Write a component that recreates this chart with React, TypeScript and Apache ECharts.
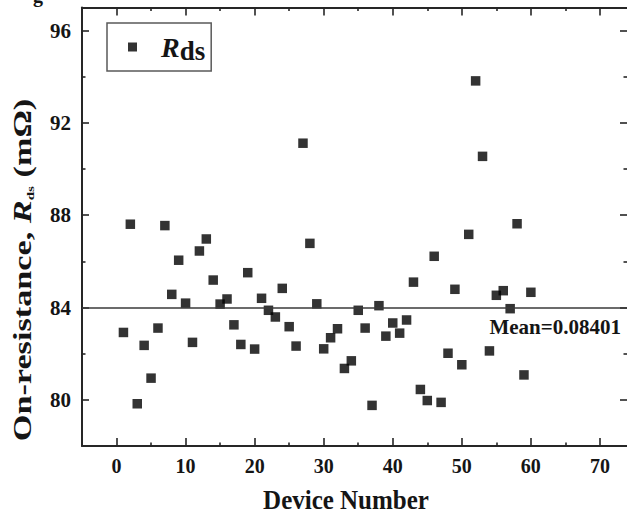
import React, { useEffect, useRef } from "react";
import * as echarts from "echarts";

const DEVICES = [
  1, 2, 3, 4, 5, 6, 7, 8, 9, 10, 11, 12, 13, 14, 15, 16, 17, 18, 19, 20,
  21, 22, 23, 24, 25, 26, 27, 28, 29, 30, 31, 32, 33, 34, 35, 36, 37, 38, 39, 40,
  41, 42, 43, 44, 45, 46, 47, 48, 49, 50, 51, 52, 53, 54, 55, 56, 57, 58, 59, 60,
];
const RDS_MOHM = [
  82.92, 87.61, 79.83, 82.36, 80.94, 83.11, 87.55, 84.57, 86.05, 84.19,
  82.49, 86.45, 86.97, 85.19, 84.15, 84.37, 83.25, 82.4, 85.51, 82.2,
  84.4, 83.88, 83.59, 84.83, 83.17, 82.33, 91.12, 86.78, 84.16, 82.21,
  82.69, 83.08, 81.36, 81.69, 83.88, 83.11, 79.76, 84.08, 82.76, 83.33,
  82.89, 83.46, 85.1, 80.45, 79.97, 86.22, 79.89, 82.02, 84.79, 81.52,
  87.17, 93.82, 90.55, 82.12, 84.53, 84.73, 83.95, 87.63, 81.08, 84.66,
];
const MEAN_MOHM = 84.01;
const MEAN_LABEL = "Mean=0.08401";
const X_MAJOR = [0, 10, 20, 30, 40, 50, 60, 70];
const X_MINOR = [5, 15, 25, 35, 45, 55, 65];
const Y_MAJOR = [80, 84, 88, 92, 96];
const Y_MINOR = [82, 86, 90, 94];

const FONT = "'Liberation Serif', 'Times New Roman', serif";
const INK = "#151515";
const AXIS = "#262626";

export default function App() {
  const ref = useRef<HTMLDivElement>(null);

  useEffect(() => {
    document.body.style.margin = "0";
    if (!ref.current) return;
    const chart = echarts.init(ref.current, undefined, { renderer: "svg" });

    const X_MIN = -5;
    const X_MAX = 73.92;
    const Y_MIN = 78;
    const Y_MAX = 97;

    const xBase = (pos: string, ticks: number[], len: number, line: boolean, labels: boolean) => ({
      type: "value",
      position: pos,
      min: X_MIN,
      max: X_MAX,
      interval: 5,
      splitLine: { show: false },
      axisLine: { show: line, onZero: false, lineStyle: { color: AXIS, width: 2 } },
      axisTick: { show: true, inside: true, length: len, customValues: ticks, lineStyle: { color: AXIS, width: 1.6 } },
      axisLabel: labels
        ? { show: true, customValues: X_MAJOR, fontSize: 20, fontWeight: "bold", fontFamily: FONT, color: INK, margin: 10 }
        : { show: false },
    });
    const yBase = (pos: string, ticks: number[], len: number, line: boolean, labels: boolean) => ({
      type: "value",
      position: pos,
      min: Y_MIN,
      max: Y_MAX,
      interval: 2,
      splitLine: { show: false },
      axisLine: { show: line, onZero: false, lineStyle: { color: AXIS, width: 2 } },
      axisTick: { show: true, inside: true, length: len, customValues: ticks, lineStyle: { color: AXIS, width: 1.6 } },
      axisLabel: labels
        ? { show: true, customValues: Y_MAJOR, fontSize: 21, fontWeight: "bold", fontFamily: FONT, color: INK, margin: 11 }
        : { show: false },
    });

    chart.setOption({
      animation: false,
      backgroundColor: "#ffffff",
      grid: { left: 82, top: 7.5, width: 548, height: 438.5, containLabel: false },
      xAxis: [
        xBase("bottom", X_MAJOR, 8, true, true),
        xBase("bottom", X_MINOR, 3.5, false, false),
        xBase("top", X_MAJOR, 8, true, false),
        xBase("top", X_MINOR, 3.5, false, false),
      ],
      yAxis: [
        yBase("left", Y_MAJOR, 7, true, true),
        yBase("left", Y_MINOR, 3.5, false, false),
        yBase("right", Y_MAJOR, 7, false, false),
        yBase("right", Y_MINOR, 3.5, false, false),
      ],
      legend: {
        left: 107,
        top: 23,
        orient: "horizontal",
        icon: "rect",
        itemWidth: 9,
        itemHeight: 9,
        borderColor: "#5a5a5a",
        borderWidth: 1.5,
        borderRadius: 0,
        padding: [7, 6, 7, 21],
        data: ["Rds"],
        formatter: () => "{r|R}{s|ds}",
        textStyle: {
          rich: {
            r: {
              fontFamily: FONT,
              fontSize: 28,
              fontStyle: "italic",
              fontWeight: "bold",
              color: INK,
              lineHeight: 30,
              padding: [0, 0, 0, 19],
            },
            s: {
              fontFamily: FONT,
              fontSize: 27,
              fontWeight: "bold",
              color: INK,
              lineHeight: 30,
              padding: [7, 0, 0, 0],
            },
          },
        },
      },
      series: [
        {
          name: "Rds",
          type: "scatter",
          xAxisIndex: 0,
          yAxisIndex: 0,
          symbol: "rect",
          symbolSize: 9.5,
          itemStyle: { color: "#000000" },
          data: DEVICES.map((d, i) => [d, RDS_MOHM[i]]),
          markLine: {
            silent: true,
            symbol: ["none", "none"],
            label: { show: false },
            lineStyle: { color: "#3a3a3a", width: 1.5, type: "solid" },
            data: [{ yAxis: MEAN_MOHM }],
          },
        },
      ],
      graphic: [
        {
          type: "text",
          x: 621,
          y: 327,
          style: {
            text: MEAN_LABEL,
            fontFamily: FONT,
            fontSize: 21,
            fontWeight: "bold",
            fill: INK,
            align: "right",
            verticalAlign: "middle",
          },
        },
        {
          type: "text",
          x: 346,
          y: 500,
          scaleY: 1.08,
          style: {
            text: "Device Number",
            fontFamily: FONT,
            fontSize: 25,
            fontWeight: "bold",
            fill: INK,
            align: "center",
            verticalAlign: "middle",
          },
        },
        {
          type: "text",
          x: 22,
          y: 270,
          rotation: Math.PI / 2,
          scaleX: 1.37,
          style: {
            text: "{a|On-resistance, }{r|R}{s|ds}{a| (mΩ)}",
            align: "center",
            verticalAlign: "middle",
            rich: {
              a: { fontFamily: FONT, fontSize: 25, fontWeight: "bold", fill: INK },
              r: { fontFamily: FONT, fontSize: 25, fontWeight: "bold", fontStyle: "italic", fill: INK },
              s: { fontFamily: FONT, fontSize: 11, fontWeight: "bold", fill: INK, padding: [16, 0, 0, 0] },
            },
          },
        },
        {
          type: "text",
          x: 38,
          y: 5,
          style: {
            text: "g",
            fontFamily: FONT,
            fontSize: 20,
            fontWeight: "bold",
            fill: INK,
            align: "center",
            verticalAlign: "bottom",
          },
        },
      ],
    });

    return () => {
      chart.dispose();
    };
  }, []);

  return (
    <div style={{ width: 627, height: 516, overflow: "hidden", position: "relative" }}>
      <div ref={ref} style={{ width: 627, height: 516 }} />
    </div>
  );
}
